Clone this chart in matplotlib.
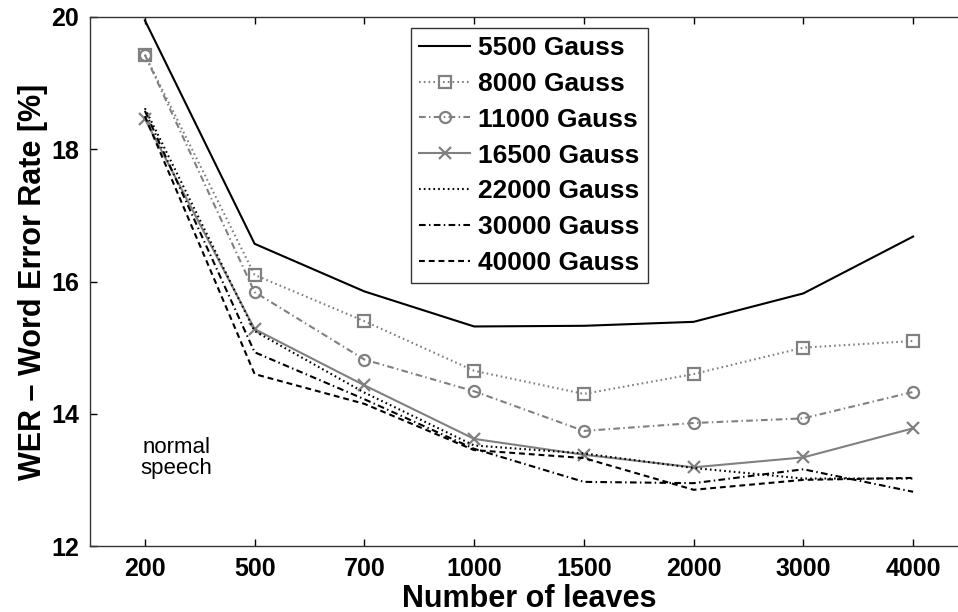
import matplotlib
matplotlib.use("Agg")
import matplotlib.pyplot as plt
import numpy as np

plt.rcParams['font.family'] = ['Liberation Sans', 'DejaVu Sans']

leaves = ["200", "500", "700", "1000", "1500", "2000", "3000", "4000"]
g5500 = [19.95, 16.57, 15.85, 15.32, 15.33, 15.39, 15.82, 16.68]
g8000 = [19.43, 16.10, 15.40, 14.65, 14.30, 14.60, 15.00, 15.10]
g11000 = [19.43, 15.84, 14.82, 14.34, 13.74, 13.86, 13.93, 14.33]
g16500 = [18.46, 15.28, 14.43, 13.62, 13.38, 13.19, 13.34, 13.78]
g22000 = [18.62, 15.25, 14.32, 13.52, 13.40, 13.18, 13.02, 13.02]
g30000 = [18.58, 14.93, 14.22, 13.47, 12.97, 12.95, 13.16, 12.82]
g40000 = [18.50, 14.60, 14.15, 13.45, 13.33, 12.85, 13.00, 13.03]
labels = ["5500 Gauss", "8000 Gauss", "11000 Gauss", "16500 Gauss",
          "22000 Gauss", "30000 Gauss", "40000 Gauss"]

gray = "#808080"
fig = plt.figure(figsize=(9.58, 6.12), dpi=100)
ax = fig.add_axes([90/958, 1-546/612, 878/958, 529/612])
x = np.arange(1, len(leaves)+1)

lw = 1.5
dashed = (2.8, 1.9)
dashdot = (3.2, 1.6, 0.7, 1.6)
dotted = (0.8, 1.5)
ax.plot(x, g5500, '-', color='black', lw=lw, label=labels[0])
ax.plot(x, g8000, color=gray, lw=lw, dashes=dotted, marker='s', ms=8, mfc='none', mew=1.6, label=labels[1])
ax.plot(x, g11000, color=gray, lw=lw, dashes=dashdot, marker='o', ms=8, mfc='none', mew=1.6, label=labels[2])
ax.plot(x, g16500, '-', color=gray, lw=lw, marker='x', ms=9, mew=1.6, label=labels[3])
ax.plot(x, g22000, color='black', lw=lw, dashes=dotted, label=labels[4])
ax.plot(x, g30000, color='black', lw=lw, dashes=dashdot, label=labels[5])
ax.plot(x, g40000, color='black', lw=lw, dashes=dashed, label=labels[6])

ax.set_xlim(0.5, 8.5)
ax.set_ylim(12, 20)
ax.set_xticks(x)
ax.set_xticklabels(leaves)
ax.set_yticks([12, 14, 16, 18, 20])
ax.tick_params(direction='in', length=5, width=1, labelsize=18, top=True, right=False, pad=8)
for lab in ax.get_xticklabels() + ax.get_yticklabels():
    lab.set_fontweight('bold')
for s in ax.spines.values():
    s.set_linewidth(1.0)
    s.set_color('#333333')

ax.set_xlabel("Number of leaves", fontsize=22, fontweight='bold', labelpad=2)
ax.set_ylabel("WER – Word Error Rate [%]", fontsize=22, fontweight='bold', labelpad=2)

ax.text(1.29, 13.33, "normal\nspeech", fontsize=16, ha='center', va='center', linespacing=1.0)

leg = ax.legend(loc='upper left', bbox_to_anchor=((411-90)/878, (546-28)/529),
                fontsize=19, frameon=True, fancybox=False, handlelength=1.95,
                handletextpad=0.3, labelspacing=0.45, borderpad=0.3, borderaxespad=0)
for t in leg.get_texts():
    t.set_fontweight('bold')
leg.get_frame().set_edgecolor('black')
leg.get_frame().set_linewidth(1.0)

fig.savefig("out.png", dpi=100)
